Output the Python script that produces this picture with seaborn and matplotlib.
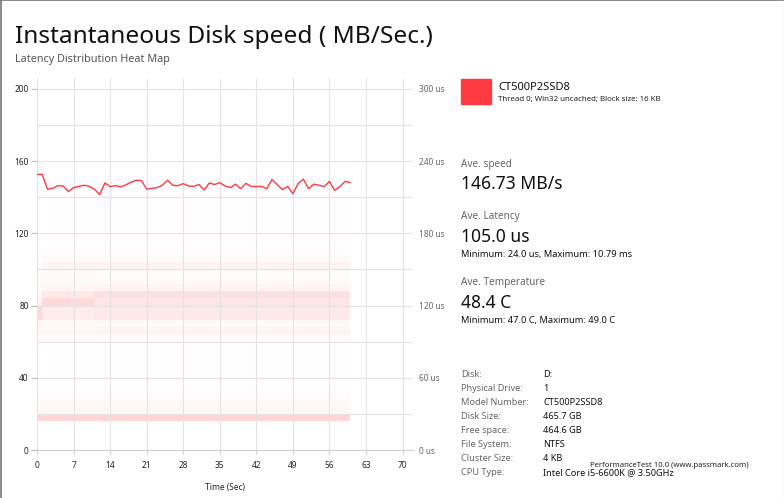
import numpy as np
import matplotlib
matplotlib.use("Agg")
import matplotlib.pyplot as plt
from matplotlib.colors import LinearSegmentedColormap
from matplotlib.ticker import MultipleLocator, FixedLocator
import seaborn as sns

sns.set_style("white")
plt.rcParams['font.family'] = ['Noto Sans', 'DejaVu Sans']

# ---------------- data ----------------
time_sec = list(range(0, 61))
speed_mb = [152.6, 152.6, 144.4, 144.9, 146.4, 146.2, 143.1, 145.3, 146.0, 146.6,
            146.0, 144.4, 141.4, 147.9, 145.9, 146.4, 145.7, 146.8, 148.3, 149.4,
            149.2, 144.4, 144.9, 145.3, 146.6, 149.4, 146.6, 146.4, 147.5, 146.2,
            146.0, 147.0, 144.0, 147.9, 147.0, 148.1, 146.2, 145.3, 147.2, 144.7,
            147.7, 145.9, 145.9, 146.0, 144.7, 149.8, 147.0, 144.2, 146.0, 141.9,
            147.5, 150.0, 144.7, 147.2, 146.6, 145.9, 148.7, 143.8, 145.9, 148.8,
            148.1]

# latency histogram bins: 6 us wide, 0..300 us (50 bins); intensity 0..1
latency_bin_us = 6
# typical column profile (t = 11..60 s), index = bin number
profile_main = [0, 0, 0, 0, 0.21, 0.05, 0.03, 0.02, 0.012, 0.01,
                0.01, 0.01, 0.01, 0.01, 0.012, 0.03, 0.06, 0.03, 0.11, 0.11,
                0.13, 0.16, 0.06, 0.02, 0.02, 0.06, 0.02, 0.012, 0.01, 0.01,
                0.01, 0.01, 0.008, 0.008, 0.008, 0.008, 0.006, 0.006, 0.005, 0.005,
                0.004, 0, 0, 0, 0, 0, 0, 0, 0, 0]
# first second differs
profile_t0 = [0, 0, 0, 0, 0.21, 0.05, 0.02, 0.02, 0.01, 0.01,
              0.01, 0.01, 0.01, 0.01, 0.01, 0.02, 0.04, 0.06, 0.2, 0.2,
              0.06, 0.05, 0.03, 0.02, 0.02, 0.03, 0.01, 0.01, 0.01, 0.01,
              0.008, 0.008, 0.006, 0.006, 0.005, 0.005, 0.004, 0.004, 0.004, 0.004,
              0, 0, 0, 0, 0, 0, 0, 0, 0, 0]
# seconds 1..11 have a stronger 120-126 us bin
profile_t1_11 = [0, 0, 0, 0, 0.21, 0.05, 0.03, 0.02, 0.012, 0.01,
                 0.01, 0.01, 0.01, 0.01, 0.012, 0.025, 0.05, 0.03, 0.09, 0.1,
                 0.19, 0.12, 0.05, 0.02, 0.02, 0.06, 0.02, 0.012, 0.01, 0.01,
                 0.01, 0.01, 0.008, 0.008, 0.008, 0.008, 0.006, 0.006, 0.005, 0.005,
                 0.004, 0, 0, 0, 0, 0, 0, 0, 0, 0]
segments = [(0, 1, profile_t0), (1, 11, profile_t1_11), (11, 60, profile_main)]

x_ticks = [0, 7, 14, 21, 28, 35, 42, 49, 56, 63, 70]
y_ticks = [0, 40, 80, 120, 160, 200]
y2_ticks = [0, 60, 120, 180, 240, 300]

# ---------------- figure ----------------
W, H = 784, 498
fig = plt.figure(figsize=(W / 100, H / 100), dpi=100)

def fx(px):
    return px / W

def fy(py):
    return 1 - py / H

ax_left, ax_right, ax_top, ax_bot = 37, 413, 78, 450
ymax = 206
ax = fig.add_axes([fx(ax_left), fy(ax_bot), (ax_right - ax_left) / W, (ax_bot - ax_top) / H])
ax2 = ax.twinx()
# heatmap axis behind the speed axis
ax2.set_zorder(ax.get_zorder() - 1)
ax.patch.set_visible(False)

# heatmap on the latency axis
n_bins = len(profile_main)
mat = np.zeros((n_bins, len(time_sec) - 1))
for t0, t1, prof in segments:
    for c in range(t0, t1):
        mat[:, c] = prof
t_edges = np.arange(0, len(time_sec))
lat_edges = np.arange(0, n_bins + 1) * latency_bin_us
cmap = LinearSegmentedColormap.from_list("wr", ["#ffffff", "#ff3a44"])
ax2.pcolormesh(t_edges, lat_edges, mat, cmap=cmap, vmin=0, vmax=1, shading='flat', zorder=1)
ax2.set_ylim(0, ymax * 1.5)

# speed line on the MB axis
sns.lineplot(x=time_sec, y=speed_mb, ax=ax, color="#ff3a44", lw=1.0, zorder=5)
ax.set_ylim(0, ymax)
ax.set_xlim(0, 72)

grid_c = "#e4e4e4"
ax.yaxis.set_major_locator(FixedLocator(y_ticks))
ax.yaxis.set_minor_locator(MultipleLocator(20))
ax.xaxis.set_major_locator(FixedLocator(x_ticks))
ax.grid(True, which='both', axis='y', color=grid_c, lw=0.8, zorder=0)
ax.grid(True, which='major', axis='x', color=grid_c, lw=0.8, zorder=0)
ax.tick_params(axis='y', which='minor', length=0)
ax.tick_params(axis='y', which='major', length=4, width=0.8, color="#bbbbbb",
               labelsize=6, labelcolor="#222222", pad=2, left=True, right=False)
ax.tick_params(axis='x', which='major', length=3, width=0.8, color="#cccccc",
               labelsize=6, labelcolor="#222222", pad=5, bottom=True, labelbottom=True)
ax.set_xlabel("Time (Sec)", fontsize=6, color="#222222", labelpad=9)
ax.set_ylabel("")

ax2.yaxis.set_major_locator(FixedLocator(y2_ticks))
ax2.set_yticklabels([f"{v} us" for v in y2_ticks])
ax2.tick_params(axis='y', length=0, labelsize=6, labelcolor="#666666", pad=4)

for a in (ax, ax2):
    for s in a.spines.values():
        s.set_visible(False)
ax.spines['bottom'].set_visible(True)
ax.spines['bottom'].set_color("#d0d0d0")
ax.spines['bottom'].set_linewidth(0.8)

# ---------------- texts ----------------
fig.text(fx(15), fy(43), "Instantaneous Disk speed ( MB/Sec.)", fontsize=17.6,
         color="#111111", va='baseline')
fig.text(fx(15), fy(62), "Latency Distribution Heat Map", fontsize=7.8,
         color="#555555", va='baseline')

# legend box
fig.patches.append(matplotlib.patches.Rectangle((fx(461), fy(104)), 30 / W, 25 / H,
                   transform=fig.transFigure, color="#ff3a40", zorder=3))
fig.text(fx(498), fy(90), "CT500P2SSD8", fontsize=8, color="#111111", va='baseline')
fig.text(fx(498), fy(101.5), "Thread 0; Win32 uncached; Block size: 16 KB", fontsize=5.7,
         color="#222222", va='baseline')

lx = 461
fig.text(fx(lx), fy(166.5), "Ave. speed", fontsize=7.2, color="#666666", va='baseline')
fig.text(fx(lx), fy(189.3), "146.73 MB/s", fontsize=12.6, color="#111111", va='baseline')
fig.text(fx(lx), fy(219), "Ave. Latency", fontsize=7.2, color="#666666", va='baseline')
fig.text(fx(lx), fy(241.7), "105.0 us", fontsize=12.6, color="#111111", va='baseline')
fig.text(fx(lx), fy(257.3), "Minimum: 24.0 us, Maximum: 10.79 ms", fontsize=6.7,
         color="#111111", va='baseline')
fig.text(fx(lx), fy(285), "Ave. Temperature", fontsize=7.2, color="#666666", va='baseline')
fig.text(fx(lx), fy(308.3), "48.4 C", fontsize=12.6, color="#111111", va='baseline')
fig.text(fx(lx), fy(322.7), "Minimum: 47.0 C, Maximum: 49.0 C", fontsize=6.7,
         color="#111111", va='baseline')

info_labels = ["Disk:", "Physical Drive:", "Model Number:", "Disk Size:", "Free space:",
               "File System:", "Cluster Size:", "CPU Type:"]
info_values = ["D:", "1", "CT500P2SSD8", "465.7 GB", "464.6 GB", "NTFS", "4 KB",
               "Intel Core i5-6600K @ 3.50GHz"]
for i, (lab, val) in enumerate(zip(info_labels, info_values)):
    yb = 377.3 + i * 14.0
    fig.text(fx(461), fy(yb), lab, fontsize=6.6, color="#666666", va='baseline')
    fig.text(fx(543), fy(yb), val, fontsize=6.6, color="#111111", va='baseline')
fig.text(fx(590), fy(467.3), "PerformanceTest 10.0 (www.passmark.com)", fontsize=5.55,
         color="#222222", va='baseline', zorder=6)

# window borders
fig.add_artist(matplotlib.lines.Line2D([fx(0.5), fx(0.5)], [0, 1], color="#777777", lw=1.2))
fig.add_artist(matplotlib.lines.Line2D([0, 1], [fy(0.5), fy(0.5)], color="#777777", lw=1.2))
fig.add_artist(matplotlib.lines.Line2D([fx(783.5), fx(783.5)], [0, 1], color="#dddddd", lw=1))

fig.savefig("out.png", dpi=100, facecolor="white")
